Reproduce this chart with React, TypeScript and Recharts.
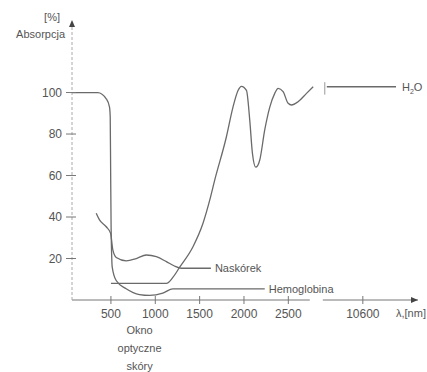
import { LineChart, Line, XAxis, YAxis, ReferenceLine, ReferenceDot } from "recharts"

// wavelengths are in axis position units; the part after the break is drawn at 3340 but labelled 10600
const hemoNm = [61, 200, 352, 447, 484, 492, 497, 502, 508, 514, 559, 672, 822, 935, 1085, 1198, 1600, 2234]
const hemoAbs = [100, 100, 100, 97, 93, 88, 60, 35, 22, 16, 9.4, 5.4, 2.6, 2.2, 3.3, 5.4, 5.4, 5.4]

const skinNm = [334, 371, 447, 496, 522, 560, 673, 786, 899, 1012, 1125, 1210, 1294, 1627]
const skinAbs = [41.8, 38.6, 35.3, 32.1, 24, 20.5, 18.9, 20, 21.7, 20.9, 18.5, 16.5, 15.3, 15.3]

const waterNm = [500, 800, 1125, 1200, 1275, 1425, 1538, 1613, 1670, 1802, 1876, 1933, 1971, 2028, 2065, 2095, 2133, 2178, 2234, 2291, 2347, 2385, 2441, 2498, 2536, 2610, 2705, 2780, 2850, 2934, 3714]
const waterAbs = [8, 8, 8, 11, 15.8, 25.7, 37, 48, 57.8, 78.7, 93, 101, 103, 101, 86.7, 70.8, 64, 67.5, 82, 93, 99.6, 102, 100.4, 94.8, 94, 95.6, 99.6, 102.8, null, 102.8, 102.8]

const xTicks = [500, 1000, 1500, 2000, 2500, 3340]
const xTickNames = ["500", "1000", "1500", "2000", "2500", "10600"]
const yTicks = [20, 40, 60, 80, 100]

const rows = (nm: number[], abs: (number | null)[]) => nm.map((x, i) => ({ nm: x, abs: abs[i] }))

const ink = "#555"
const lineCol = "#6a6a6a"
const axisCol = "#777"
const font = "'Liberation Sans', Arial, sans-serif"

function XTick(props: any) {
  const { x, y, payload } = props
  const i = xTicks.indexOf(payload.value)
  return (
    <g>
      <line x1={x} x2={x} y1={y - 4} y2={y + 4} stroke={axisCol} />
      <text x={x} y={y + 18} textAnchor="middle" fill={ink} fontSize={12} fontFamily={font}>
        {xTickNames[i]}
      </text>
    </g>
  )
}

function YTick(props: any) {
  const { x, y, payload } = props
  return (
    <g>
      <line x1={x - 6} x2={x + 4} y1={y} y2={y} stroke={axisCol} />
      <text x={x - 10} y={y + 4} textAnchor="end" fill={ink} fontSize={12} fontFamily={font}>
        {payload.value}
      </text>
    </g>
  )
}

const endLabel = (text: string, n: number) => (p: any) =>
  p.index === n - 1 ? (
    <text x={p.x + 4} y={p.y + 4} fill={ink} fontSize={11} fontFamily={font}>
      {text}
    </text>
  ) : null

const waterLabel = (p: any) =>
  p.index === waterNm.length - 1 ? (
    <text x={p.x + 6} y={p.y + 4} fill={ink} fontSize={11} fontFamily={font}>
      H<tspan fontSize={7} dy={3}>2</tspan>
      <tspan dy={-3}>O</tspan>
    </text>
  ) : null

export default function App() {
  return (
    <div style={{ position: "absolute", left: 0, top: 0, background: "#fff" }}>
      <LineChart width={427} height={372} margin={{ top: 22, right: 9, bottom: 0, left: 0 }}>
        <XAxis
          type="number"
          dataKey="nm"
          domain={[61, 3962]}
          allowDataOverflow
          ticks={xTicks}
          tick={<XTick />}
          tickSize={0}
          tickMargin={0}
          tickLine={false}
          axisLine={false}
          height={72}
        />
        <YAxis
          type="number"
          domain={[0, 134]}
          ticks={yTicks}
          tick={<YTick />}
          tickSize={0}
          tickMargin={0}
          tickLine={false}
          axisLine={{ stroke: "#aaa", strokeDasharray: "3 2" }}
          width={72}
        />
        <ReferenceLine segment={[{ x: 61, y: 0 }, { x: 2742, y: 0 }]} stroke={axisCol} ifOverflow="visible" />
        <ReferenceLine segment={[{ x: 2889, y: 0 }, { x: 3962, y: 0 }]} stroke={axisCol} ifOverflow="visible" />
        <ReferenceLine segment={[{ x: 2911, y: 99 }, { x: 2911, y: 105 }]} stroke="#999" ifOverflow="visible" />
        <ReferenceDot
          x={3962}
          y={0}
          ifOverflow="visible"
          shape={(p: any) => (
            <g>
              <path d={`M${p.cx},${p.cy} l-7,-3 l0,6 z`} fill="#444" />
              <text x={p.cx - 22} y={p.cy + 17} fill={ink} fontSize={11} fontFamily={font}>
                λ,[nm]
              </text>
            </g>
          )}
        />
        <ReferenceDot
          x={61}
          y={134}
          ifOverflow="visible"
          shape={(p: any) => (
            <g>
              <path d={`M${p.cx},${p.cy - 2} l-3,7 l6,0 z`} fill="#444" />
              <text x={p.cx - 12} y={p.cy - 1} textAnchor="end" fill={ink} fontSize={11} fontFamily={font}>
                [%]
              </text>
              <text x={p.cx - 7} y={p.cy + 16} textAnchor="end" fill={ink} fontSize={11} fontFamily={font}>
                Absorpcja
              </text>
            </g>
          )}
        />
        <ReferenceDot
          x={823}
          y={0}
          ifOverflow="visible"
          shape={(p: any) => (
            <g fill={ink} fontSize={11} fontFamily={font} textAnchor="middle">
              <text x={p.cx} y={p.cy + 34}>Okno</text>
              <text x={p.cx} y={p.cy + 52}>optyczne</text>
              <text x={p.cx} y={p.cy + 70}>skóry</text>
            </g>
          )}
        />
        <Line
          data={rows(hemoNm, hemoAbs)}
          dataKey="abs"
          type="monotone"
          stroke={lineCol}
          strokeWidth={1.3}
          dot={false}
          isAnimationActive={false}
          label={endLabel("Hemoglobina", hemoNm.length)}
        />
        <Line
          data={rows(skinNm, skinAbs)}
          dataKey="abs"
          type="monotone"
          stroke={lineCol}
          strokeWidth={1.3}
          dot={false}
          isAnimationActive={false}
          label={endLabel("Naskórek", skinNm.length)}
        />
        <Line
          data={rows(waterNm, waterAbs)}
          dataKey="abs"
          type="monotone"
          stroke={lineCol}
          strokeWidth={1.3}
          dot={false}
          isAnimationActive={false}
          label={waterLabel}
        />
      </LineChart>
    </div>
  )
}
